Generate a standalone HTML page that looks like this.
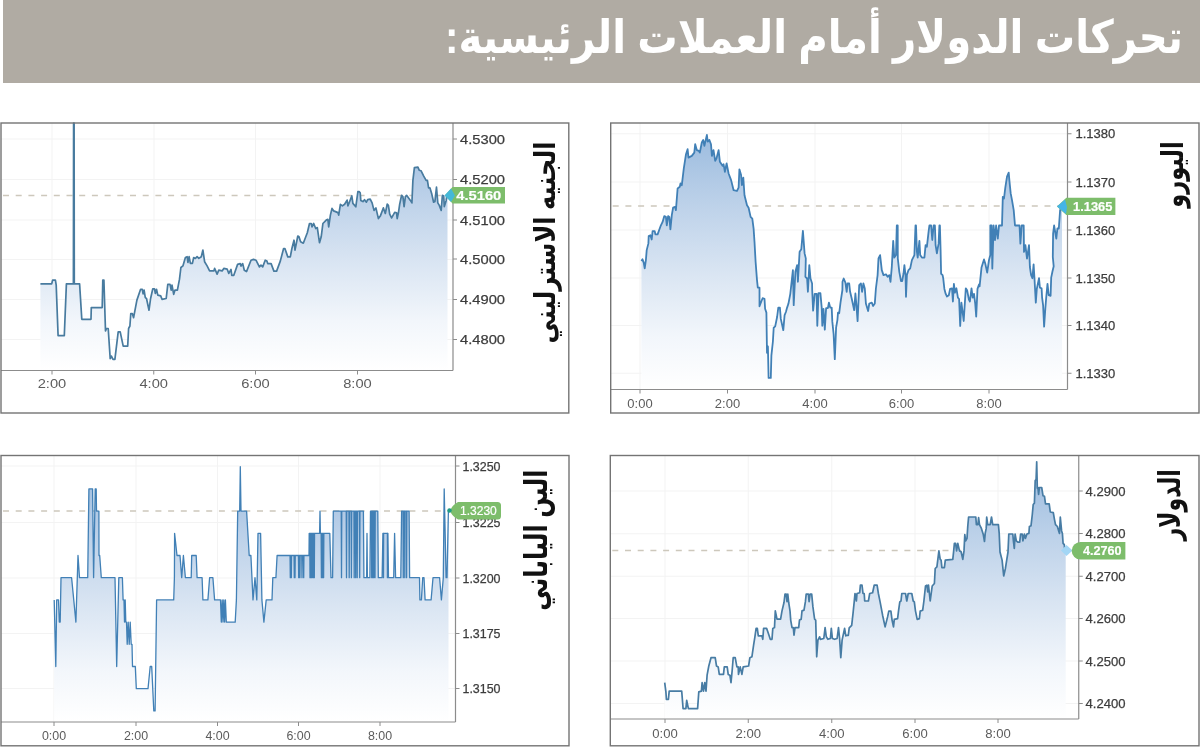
<!DOCTYPE html>
<html lang="ar"><head><meta charset="utf-8"><title>تحركات الدولار أمام العملات الرئيسية</title>
<style>
html,body{margin:0;padding:0;background:#fff}
body{width:1200px;height:748px;position:relative;overflow:hidden;font-family:"Liberation Sans",sans-serif}
#hdr{position:absolute;left:3px;top:0;width:1197px;height:82.5px;background:#b0aba3}
h1,h2{position:absolute;margin:0;font-family:"Liberation Sans",sans-serif;font-weight:normal;color:transparent;white-space:nowrap;overflow:hidden;direction:rtl}
h1{right:17px;top:20px;width:740px;height:40px;font-size:30px;line-height:40px}
h2{font-size:10px;line-height:12px;height:12px;width:100px}
svg{position:absolute;left:0;top:0;filter:blur(0.6px)}
svg text{font-family:"Liberation Sans",sans-serif;fill:#3c3c3c;stroke:#3c3c3c;stroke-width:0.25px}svg text.w{fill:#fff;stroke:#fff;stroke-width:0.2px}svg text.x{fill:#5c5c5c;stroke:none}
svg text.t{fill:#fff;stroke:none;font-family:"Liberation Sans","DejaVu Sans",sans-serif;font-weight:bold}
svg text.l{fill:#111;stroke:none;font-family:"Liberation Sans","DejaVu Sans",sans-serif;font-weight:bold}
</style></head><body>
<div id="hdr"></div>
<h1>تحركات الدولار أمام العملات الرئيسية:</h1>
<h2 style="left:470px;top:230px">الجنيه الاسترليني</h2>
<h2 style="left:1090px;top:170px">اليورو</h2>
<h2 style="left:470px;top:540px">الين الياباني</h2>
<h2 style="left:1090px;top:500px">الدولار</h2>
<svg width="1200" height="748" viewBox="0 0 1200 748">
<defs></defs>
<text class="t" x="814" y="53.3" font-size="46" text-anchor="middle" direction="rtl" textLength="738" lengthAdjust="spacingAndGlyphs">تحركات الدولار أمام العملات الرئيسية:</text>
<g><linearGradient id="gA" gradientUnits="userSpaceOnUse" x1="0" y1="123" x2="0" y2="370.5"><stop offset="0" stop-color="#96b8dd"/><stop offset="0.3" stop-color="#bcd1e9"/><stop offset="0.55" stop-color="#d8e4f2"/><stop offset="0.8" stop-color="#f2f6fb"/><stop offset="1" stop-color="#ffffff"/></linearGradient>
<path d="M52 123V370.5M154 123V370.5M255.5 123V370.5M357.5 123V370.5M1 139H453M1 179.5H453M1 220H453M1 259.5H453M1 299.5H453M1 339.5H453" stroke="#f3f3f3" stroke-width="1" fill="none"/>
<path d="M3 195.5H453" stroke="#cdc8bc" stroke-width="1.3" stroke-dasharray="6 6.7" fill="none"/>
<path d="M40.4 283.9L51.7 283.9L52.6 280.1L55.4 280.1L56.2 285.1L58.1 335.7L64.3 335.7L66.4 283.9L73.4 283.9L73.6 123L74.1 123L74.3 283.9L79.6 283.9L81.8 319.3L91 319.3L91.3 307.6L102.2 307.6L102.8 280.1L103.9 280.1L105.5 331L106.5 328.5L108.2 328.5L110.2 358.6L111.4 356.1L113 359.4L114.9 359.4L118.2 331.9L120.2 331.9L123.2 346.1L127.7 346.1L128.6 328.5L129.9 326L130.8 313.5L132.3 313.5L133.6 317.7L136.9 300.1L140.6 289.3L142.3 289.3L143.1 293.8L144.1 290.1L145.3 297.6L146.5 298.5L149 310.2L150.6 298.5L152.8 288.8L154.5 288.8L155.3 293.4L156.5 289.3L157.8 295.1L160.7 295.9L162 299.3L166.2 298.5L167.8 284.3L170 284.3L171.2 290.1L172 285.1L173.7 294.3L175 290.1L177.4 290.1L179.5 279.2L180.9 267.5L182.9 265.9L185.4 257.5L187.1 256.7L187.9 262.5L189.1 256.7L190.4 263.4L192.4 263.4L193.7 257.5L195.4 258.4L197.1 256.7L198.8 258.4L201.3 256.7L202.9 250L204.6 261.7L207.1 265.9L209.6 270.9L213.8 270.9L214.6 268.4L217.1 274.2L218.8 270.1L222.1 270.9L223.8 268.4L227.2 269.2L228.8 273.4L231 269.4L231.8 275.3L233.8 275.3L237.6 264.4L240.2 263.6L241 266.1L242.7 263.6L244.3 270.3L246.5 271.6L251 260.2L253.5 259.4L256 260.2L259.4 266.9L261 265.2L262.7 266.9L265.2 260.2L266.9 261.1L267.7 263.6L271.1 263.6L273.9 271.1L276.6 271.1L280.3 261.1L283.6 248.5L284.9 248.5L287.8 256.9L290.3 256.9L291.9 248.5L294 240.2L295 250.2L297.8 236L299 236.8L300.6 241.8L303.3 243.2L307.3 232.7L309.5 223.5L311.2 223.5L312 226.8L313.7 223.5L315.7 228.5L317.3 227.6L319.5 242.7L321.2 236.8L322.9 223.5L326.2 220.1L327.9 219.3L328.7 226.8L330.4 215.1L332 208.4L333.7 210.9L337.9 212.6L338.7 215.1L340.4 204.3L342.4 205.9L344.6 204.3L347.1 200.1L347.9 205.9L349.6 201.7L351.8 195.9L352.9 203.4L355.8 206.8L357.9 191.7L359.1 191.6L360.2 192.8L360.8 200.4L362.9 201.6L364.5 199.7L366.4 202.2L367.7 199.7L370.2 199.1L372.1 202.9L374 210.4L375.9 207.9L378.4 218.6L380.3 216.1L383.4 207.9L385.3 213.5L387.2 204.1L388.4 205.4L389.7 214.2L391.6 217.9L394.7 212.3L396.6 212.9L397.2 218.6L398.5 212.3L399.7 204.1L401.6 195.3L402.9 196.6L404.1 206.6L405.4 196.6L406.6 195.3L410.4 200.4L411.9 202.9L412.9 180.3L414.4 167.7L417.9 167.1L419.2 170.2L421.1 170.8L423.6 175.9L426.1 180.3L427.4 180.3L428.6 187.8L429.9 187.8L431.8 194.1L433.6 202.2L434.9 201.6L436.5 187.2L437.8 202.9L439.3 205.4L441.2 210.4L442.4 195.3L443.7 196L444.3 206.6L446.2 200.4L446.8 195.3L447.5 195.3L447.5 370.5L40.4 370.5Z" fill="url(#gA)" stroke="none"/>
<path d="M40.4 283.9L51.7 283.9L52.6 280.1L55.4 280.1L56.2 285.1L58.1 335.7L64.3 335.7L66.4 283.9L73.4 283.9L73.6 123L74.1 123L74.3 283.9L79.6 283.9L81.8 319.3L91 319.3L91.3 307.6L102.2 307.6L102.8 280.1L103.9 280.1L105.5 331L106.5 328.5L108.2 328.5L110.2 358.6L111.4 356.1L113 359.4L114.9 359.4L118.2 331.9L120.2 331.9L123.2 346.1L127.7 346.1L128.6 328.5L129.9 326L130.8 313.5L132.3 313.5L133.6 317.7L136.9 300.1L140.6 289.3L142.3 289.3L143.1 293.8L144.1 290.1L145.3 297.6L146.5 298.5L149 310.2L150.6 298.5L152.8 288.8L154.5 288.8L155.3 293.4L156.5 289.3L157.8 295.1L160.7 295.9L162 299.3L166.2 298.5L167.8 284.3L170 284.3L171.2 290.1L172 285.1L173.7 294.3L175 290.1L177.4 290.1L179.5 279.2L180.9 267.5L182.9 265.9L185.4 257.5L187.1 256.7L187.9 262.5L189.1 256.7L190.4 263.4L192.4 263.4L193.7 257.5L195.4 258.4L197.1 256.7L198.8 258.4L201.3 256.7L202.9 250L204.6 261.7L207.1 265.9L209.6 270.9L213.8 270.9L214.6 268.4L217.1 274.2L218.8 270.1L222.1 270.9L223.8 268.4L227.2 269.2L228.8 273.4L231 269.4L231.8 275.3L233.8 275.3L237.6 264.4L240.2 263.6L241 266.1L242.7 263.6L244.3 270.3L246.5 271.6L251 260.2L253.5 259.4L256 260.2L259.4 266.9L261 265.2L262.7 266.9L265.2 260.2L266.9 261.1L267.7 263.6L271.1 263.6L273.9 271.1L276.6 271.1L280.3 261.1L283.6 248.5L284.9 248.5L287.8 256.9L290.3 256.9L291.9 248.5L294 240.2L295 250.2L297.8 236L299 236.8L300.6 241.8L303.3 243.2L307.3 232.7L309.5 223.5L311.2 223.5L312 226.8L313.7 223.5L315.7 228.5L317.3 227.6L319.5 242.7L321.2 236.8L322.9 223.5L326.2 220.1L327.9 219.3L328.7 226.8L330.4 215.1L332 208.4L333.7 210.9L337.9 212.6L338.7 215.1L340.4 204.3L342.4 205.9L344.6 204.3L347.1 200.1L347.9 205.9L349.6 201.7L351.8 195.9L352.9 203.4L355.8 206.8L357.9 191.7L359.1 191.6L360.2 192.8L360.8 200.4L362.9 201.6L364.5 199.7L366.4 202.2L367.7 199.7L370.2 199.1L372.1 202.9L374 210.4L375.9 207.9L378.4 218.6L380.3 216.1L383.4 207.9L385.3 213.5L387.2 204.1L388.4 205.4L389.7 214.2L391.6 217.9L394.7 212.3L396.6 212.9L397.2 218.6L398.5 212.3L399.7 204.1L401.6 195.3L402.9 196.6L404.1 206.6L405.4 196.6L406.6 195.3L410.4 200.4L411.9 202.9L412.9 180.3L414.4 167.7L417.9 167.1L419.2 170.2L421.1 170.8L423.6 175.9L426.1 180.3L427.4 180.3L428.6 187.8L429.9 187.8L431.8 194.1L433.6 202.2L434.9 201.6L436.5 187.2L437.8 202.9L439.3 205.4L441.2 210.4L442.4 195.3L443.7 196L444.3 206.6L446.2 200.4L446.8 195.3" fill="none" stroke="#487b9f" stroke-width="1.7" stroke-linejoin="round"/>
<path d="M453 123V370.5M1 370.5H453" stroke="#8c8c8c" stroke-width="1.2" fill="none"/>
<path d="M453 139h4M453 179.5h4M453 220h4M453 259h4M453 299.5h4M453 339.5h4M52 370.5v4M153.75 370.5v4M255.5 370.5v4M357.5 370.5v4" stroke="#8c8c8c" stroke-width="1" fill="none"/>
<rect x="1" y="123" width="567.8" height="290" fill="none" stroke="#747474" stroke-width="1.4"/>
<text x="460" y="143.7" font-size="13" textLength="45" lengthAdjust="spacingAndGlyphs">4.5300</text>
<text x="460" y="184.2" font-size="13" textLength="45" lengthAdjust="spacingAndGlyphs">4.5200</text>
<text x="460" y="224.7" font-size="13" textLength="45" lengthAdjust="spacingAndGlyphs">4.5100</text>
<text x="460" y="263.7" font-size="13" textLength="45" lengthAdjust="spacingAndGlyphs">4.5000</text>
<text x="460" y="304.2" font-size="13" textLength="45" lengthAdjust="spacingAndGlyphs">4.4900</text>
<text x="460" y="344.2" font-size="13" textLength="45" lengthAdjust="spacingAndGlyphs">4.4800</text>
<text x="52" y="387.7" font-size="13" class="x" text-anchor="middle" textLength="28.6" lengthAdjust="spacingAndGlyphs">2:00</text>
<text x="153.75" y="387.7" font-size="13" class="x" text-anchor="middle" textLength="28.6" lengthAdjust="spacingAndGlyphs">4:00</text>
<text x="255.5" y="387.7" font-size="13" class="x" text-anchor="middle" textLength="28.6" lengthAdjust="spacingAndGlyphs">6:00</text>
<text x="357.5" y="387.7" font-size="13" class="x" text-anchor="middle" textLength="28.6" lengthAdjust="spacingAndGlyphs">8:00</text></g>
<g><linearGradient id="gB" gradientUnits="userSpaceOnUse" x1="0" y1="123" x2="0" y2="389.5"><stop offset="0" stop-color="#96b8dd"/><stop offset="0.3" stop-color="#bcd1e9"/><stop offset="0.55" stop-color="#d8e4f2"/><stop offset="0.8" stop-color="#f2f6fb"/><stop offset="1" stop-color="#ffffff"/></linearGradient>
<path d="M640 123V389.5M727.5 123V389.5M815 123V389.5M901.5 123V389.5M989 123V389.5M610.7 133.75H1067.5M610.7 182H1067.5M610.7 230H1067.5M610.7 278H1067.5M610.7 325.5H1067.5M610.7 373.25H1067.5" stroke="#f3f3f3" stroke-width="1" fill="none"/>
<path d="M612.7 206H1067.5" stroke="#cdc8bc" stroke-width="1.3" stroke-dasharray="6 6.7" fill="none"/>
<path d="M641.4 260.9L642.5 259.3L643.7 262.6L644.7 268.4L645.9 260.1L646.7 250.1L648.4 243.4L648.7 236.1L650.4 235.3L651.7 239.5L652.6 231.1L654.7 231.1L655.4 234.4L657.6 234.4L660.9 225.3L662.6 221.9L664.3 216.1L665.9 216.9L666.8 225.3L668.1 216.1L669.3 216.9L670.4 229.4L671.8 215.2L673.1 207.7L675.1 206.9L675.9 210.2L677.6 188.5L679.8 186.8L680.5 183.5L681.8 185.2L683.8 168.4L686 154.2L687.6 149.2L688.5 157.6L691.8 155.9L694.3 152.6L695.2 144.2L696.8 150.1L698.8 150.9L699.8 152.6L701.8 142.5L703.2 140L704.4 145.9L705.5 140.9L706.9 135L707.7 141.7L709.4 140L711 144.2L711.9 155.9L713.5 150.1L715.2 160.9L716.5 158.4L718.6 150.1L719.9 161.8L722.7 165.9L723.6 164.3L724.9 171.8L726.6 163.4L728.6 173.5L731.1 180.1L733.6 190.2L736.9 191L738.6 187.7L739.4 169.3L741.1 175.1L741.9 185.2L743.3 177.6L744.5 195.2L747 205.2L748.6 207.7L750.6 216.9L752.3 218.6L753.6 228.6L754.5 241.7L755.6 261.8L757 280.1L757.8 287.7L759.5 287.7L759.5 306.3L761.4 301.3L762.6 298.2L764.5 298.8L765.1 308.8L766.4 312.6L767 352.8L767.9 346.5L768.6 377.9L770.8 377.9L771.4 355.3L772.9 341.5L773.7 327.7L775.2 326.4L777.1 317L778.3 307.6L779.9 307.6L780.8 318.9L783.3 330.2L784.6 315.1L785.9 312L787.1 307.6L788.4 303.8L790.3 293.8L792.9 270.1L793.7 305.2L795.4 271.8L797.1 265.1L797.9 281.8L799.6 251.7L801.3 249.2L802.9 230.8L804.6 253.4L805.8 258.4L805.4 276.8L807.1 278.5L807.9 291.8L809.3 265.1L810.5 278.5L812.1 283.5L812.2 290L813.1 310.7L814.7 293.8L816.6 293.8L817.3 325.8L818.5 293.1L820.4 293.1L821.7 307.6L822.3 325.8L823.5 308.8L824.8 329.6L826.1 308.2L827.9 308.2L828.9 302.6L830.2 307.6L831.7 307.6L832.3 321.4L833.6 334L834.8 359.1L836.1 327.7L837.4 320.2L838 312.6L839.2 313.2L840.5 302.6L842.4 290L842.5 281.8L843.7 278.5L845.4 282.6L846.7 291.8L847.5 283.5L849.2 283.5L850.1 291.8L851.7 298.5L854.2 310.2L855.4 293.5L856.4 305.2L857.6 321.1L859.2 285.2L860.9 283.5L862.1 291.8L863.4 283.5L864.8 288.5L865.9 303.5L868.1 311L869.3 303.5L871.8 302.7L873.1 306L874.8 303.5L875.9 288.5L877.6 275.1L878.5 258.4L880.1 255.1L881.8 270.1L883.5 275.1L886 274.3L887.6 276.8L889.3 275.1L890.5 281.8L891.8 266.8L893.2 240.9L894.3 257.6L896 255.1L896.8 225.5L897.7 225.5L897.8 258.4L899.3 271.8L901 281L902.2 281L903.5 273.5L904.4 265.1L905.5 275.1L906 296.8L906.9 275.1L908.5 270.1L910.2 268.4L911.9 260.1L914.4 255.1L915.5 225.5L916 225.5L916.9 251.7L917.7 257.6L919.4 240.9L920.2 255.1L921.9 257.6L924.4 257.6L925.6 245.1L926.9 246.7L928.6 231.7L929.4 225.5L931.1 225.5L932.3 240L933.6 225.5L934.9 225.5L935.6 245.1L936.9 253.4L938.6 243.4L939.4 225.5L939.9 225.5L940.6 250.1L941.1 273.8L942.6 275.1L943.2 278.2L944.4 288.9L945.7 293.9L947 296.5L948.8 295.2L950.1 288.9L952 288.3L952.9 301.5L953.9 283.9L954.9 292.7L956.4 288.3L957.9 297.7L959.1 299L960.2 326L961.4 302.7L962.4 310.3L963.7 321L965.8 288.3L967.1 290.2L968.9 299.6L969.9 301.5L971.5 288.3L972.7 297.7L974 293.9L975.2 303.4L976.2 316.6L977.5 288.9L979 284.5L979.6 286.4L981.5 267.6L984 259.4L985.3 263.8L987.2 272.6L989 260L990.3 255L990.3 225.5L991.6 225.5L992.3 268.6L993.6 225.5L995 240.2L996.1 225.5L997.8 238.6L999 225.5L1002 225.5L1002.8 196.8L1004 198.5L1005.3 187.6L1007 176.7L1008.7 172.6L1009.5 181.7L1010.7 193.4L1012 200.1L1013.7 210.2L1015 225.5L1019.5 225.5L1020.4 243.6L1021.7 225.5L1023.7 225.5L1024 251.9L1025.4 245.2L1027 258.6L1029 245.2L1029.9 267L1031.1 275.1L1032.4 278.2L1033.6 264.4L1034.5 278.9L1035.8 302.7L1036.8 288.9L1039 278.2L1039.9 287.7L1041.6 288.3L1042.1 297.7L1043.1 305.3L1044.1 326.6L1045.3 309L1046.2 297.7L1047.5 283.9L1048.7 295.2L1050.6 295.8L1051.2 277.6L1052.5 271.3L1053.7 266.3L1052.8 256.9L1053.1 233.5L1054.1 225.5L1056.3 238.6L1057.4 228.5L1058.8 228.5L1060.1 210.2L1061.3 206.8L1062 206.8L1062 389.5L641.4 389.5Z" fill="url(#gB)" stroke="none"/>
<path d="M641.4 260.9L642.5 259.3L643.7 262.6L644.7 268.4L645.9 260.1L646.7 250.1L648.4 243.4L648.7 236.1L650.4 235.3L651.7 239.5L652.6 231.1L654.7 231.1L655.4 234.4L657.6 234.4L660.9 225.3L662.6 221.9L664.3 216.1L665.9 216.9L666.8 225.3L668.1 216.1L669.3 216.9L670.4 229.4L671.8 215.2L673.1 207.7L675.1 206.9L675.9 210.2L677.6 188.5L679.8 186.8L680.5 183.5L681.8 185.2L683.8 168.4L686 154.2L687.6 149.2L688.5 157.6L691.8 155.9L694.3 152.6L695.2 144.2L696.8 150.1L698.8 150.9L699.8 152.6L701.8 142.5L703.2 140L704.4 145.9L705.5 140.9L706.9 135L707.7 141.7L709.4 140L711 144.2L711.9 155.9L713.5 150.1L715.2 160.9L716.5 158.4L718.6 150.1L719.9 161.8L722.7 165.9L723.6 164.3L724.9 171.8L726.6 163.4L728.6 173.5L731.1 180.1L733.6 190.2L736.9 191L738.6 187.7L739.4 169.3L741.1 175.1L741.9 185.2L743.3 177.6L744.5 195.2L747 205.2L748.6 207.7L750.6 216.9L752.3 218.6L753.6 228.6L754.5 241.7L755.6 261.8L757 280.1L757.8 287.7L759.5 287.7L759.5 306.3L761.4 301.3L762.6 298.2L764.5 298.8L765.1 308.8L766.4 312.6L767 352.8L767.9 346.5L768.6 377.9L770.8 377.9L771.4 355.3L772.9 341.5L773.7 327.7L775.2 326.4L777.1 317L778.3 307.6L779.9 307.6L780.8 318.9L783.3 330.2L784.6 315.1L785.9 312L787.1 307.6L788.4 303.8L790.3 293.8L792.9 270.1L793.7 305.2L795.4 271.8L797.1 265.1L797.9 281.8L799.6 251.7L801.3 249.2L802.9 230.8L804.6 253.4L805.8 258.4L805.4 276.8L807.1 278.5L807.9 291.8L809.3 265.1L810.5 278.5L812.1 283.5L812.2 290L813.1 310.7L814.7 293.8L816.6 293.8L817.3 325.8L818.5 293.1L820.4 293.1L821.7 307.6L822.3 325.8L823.5 308.8L824.8 329.6L826.1 308.2L827.9 308.2L828.9 302.6L830.2 307.6L831.7 307.6L832.3 321.4L833.6 334L834.8 359.1L836.1 327.7L837.4 320.2L838 312.6L839.2 313.2L840.5 302.6L842.4 290L842.5 281.8L843.7 278.5L845.4 282.6L846.7 291.8L847.5 283.5L849.2 283.5L850.1 291.8L851.7 298.5L854.2 310.2L855.4 293.5L856.4 305.2L857.6 321.1L859.2 285.2L860.9 283.5L862.1 291.8L863.4 283.5L864.8 288.5L865.9 303.5L868.1 311L869.3 303.5L871.8 302.7L873.1 306L874.8 303.5L875.9 288.5L877.6 275.1L878.5 258.4L880.1 255.1L881.8 270.1L883.5 275.1L886 274.3L887.6 276.8L889.3 275.1L890.5 281.8L891.8 266.8L893.2 240.9L894.3 257.6L896 255.1L896.8 225.5L897.7 225.5L897.8 258.4L899.3 271.8L901 281L902.2 281L903.5 273.5L904.4 265.1L905.5 275.1L906 296.8L906.9 275.1L908.5 270.1L910.2 268.4L911.9 260.1L914.4 255.1L915.5 225.5L916 225.5L916.9 251.7L917.7 257.6L919.4 240.9L920.2 255.1L921.9 257.6L924.4 257.6L925.6 245.1L926.9 246.7L928.6 231.7L929.4 225.5L931.1 225.5L932.3 240L933.6 225.5L934.9 225.5L935.6 245.1L936.9 253.4L938.6 243.4L939.4 225.5L939.9 225.5L940.6 250.1L941.1 273.8L942.6 275.1L943.2 278.2L944.4 288.9L945.7 293.9L947 296.5L948.8 295.2L950.1 288.9L952 288.3L952.9 301.5L953.9 283.9L954.9 292.7L956.4 288.3L957.9 297.7L959.1 299L960.2 326L961.4 302.7L962.4 310.3L963.7 321L965.8 288.3L967.1 290.2L968.9 299.6L969.9 301.5L971.5 288.3L972.7 297.7L974 293.9L975.2 303.4L976.2 316.6L977.5 288.9L979 284.5L979.6 286.4L981.5 267.6L984 259.4L985.3 263.8L987.2 272.6L989 260L990.3 255L990.3 225.5L991.6 225.5L992.3 268.6L993.6 225.5L995 240.2L996.1 225.5L997.8 238.6L999 225.5L1002 225.5L1002.8 196.8L1004 198.5L1005.3 187.6L1007 176.7L1008.7 172.6L1009.5 181.7L1010.7 193.4L1012 200.1L1013.7 210.2L1015 225.5L1019.5 225.5L1020.4 243.6L1021.7 225.5L1023.7 225.5L1024 251.9L1025.4 245.2L1027 258.6L1029 245.2L1029.9 267L1031.1 275.1L1032.4 278.2L1033.6 264.4L1034.5 278.9L1035.8 302.7L1036.8 288.9L1039 278.2L1039.9 287.7L1041.6 288.3L1042.1 297.7L1043.1 305.3L1044.1 326.6L1045.3 309L1046.2 297.7L1047.5 283.9L1048.7 295.2L1050.6 295.8L1051.2 277.6L1052.5 271.3L1053.7 266.3L1052.8 256.9L1053.1 233.5L1054.1 225.5L1056.3 238.6L1057.4 228.5L1058.8 228.5L1060.1 210.2L1061.3 206.8" fill="none" stroke="#4180b6" stroke-width="1.8" stroke-linejoin="round"/>
<path d="M1067.5 123V389.5M610.7 389.5H1067.5" stroke="#8c8c8c" stroke-width="1.2" fill="none"/>
<path d="M1067.5 133.75h4M1067.5 182h4M1067.5 230h4M1067.5 278h4M1067.5 325.5h4M1067.5 373.25h4M640 389.5v4M727.5 389.5v4M815 389.5v4M901.5 389.5v4M989 389.5v4" stroke="#8c8c8c" stroke-width="1" fill="none"/>
<rect x="610.7" y="123" width="588.3" height="290" fill="none" stroke="#747474" stroke-width="1.4"/>
<text x="1075.5" y="138.4" font-size="13" textLength="39.8" lengthAdjust="spacingAndGlyphs">1.1380</text>
<text x="1075.5" y="186.7" font-size="13" textLength="39.8" lengthAdjust="spacingAndGlyphs">1.1370</text>
<text x="1075.5" y="234.7" font-size="13" textLength="39.8" lengthAdjust="spacingAndGlyphs">1.1360</text>
<text x="1075.5" y="282.7" font-size="13" textLength="39.8" lengthAdjust="spacingAndGlyphs">1.1350</text>
<text x="1075.5" y="330.2" font-size="13" textLength="39.8" lengthAdjust="spacingAndGlyphs">1.1340</text>
<text x="1075.5" y="377.9" font-size="13" textLength="39.8" lengthAdjust="spacingAndGlyphs">1.1330</text>
<text x="640" y="407.7" font-size="13" class="x" text-anchor="middle" textLength="25.3" lengthAdjust="spacingAndGlyphs">0:00</text>
<text x="727.5" y="407.7" font-size="13" class="x" text-anchor="middle" textLength="25.3" lengthAdjust="spacingAndGlyphs">2:00</text>
<text x="815" y="407.7" font-size="13" class="x" text-anchor="middle" textLength="25.3" lengthAdjust="spacingAndGlyphs">4:00</text>
<text x="901.5" y="407.7" font-size="13" class="x" text-anchor="middle" textLength="25.3" lengthAdjust="spacingAndGlyphs">6:00</text>
<text x="989" y="407.7" font-size="13" class="x" text-anchor="middle" textLength="25.3" lengthAdjust="spacingAndGlyphs">8:00</text></g>
<g><linearGradient id="gC" gradientUnits="userSpaceOnUse" x1="0" y1="455.5" x2="0" y2="722"><stop offset="0" stop-color="#96b8dd"/><stop offset="0.3" stop-color="#bcd1e9"/><stop offset="0.55" stop-color="#d8e4f2"/><stop offset="0.8" stop-color="#f2f6fb"/><stop offset="1" stop-color="#ffffff"/></linearGradient>
<path d="M54 455.5V722M136 455.5V722M217.5 455.5V722M298.5 455.5V722M380 455.5V722M1 466H455.5M1 522.5H455.5M1 578H455.5M1 633.5H455.5M1 688.5H455.5" stroke="#f3f3f3" stroke-width="1" fill="none"/>
<path d="M3 511H455.5" stroke="#cdc8bc" stroke-width="1.3" stroke-dasharray="6 6.7" fill="none"/>
<path d="M54.2 599.9L55.8 666.5L56.7 599.9L58.5 599.9L59.3 622.1L60.2 622.1L61 577.7L71.6 577.7L75.9 622.1L77.3 577.7L78 555.5L79.5 577.7L87.7 577.7L88.9 488.9L92.6 488.9L93.6 577.7L95.2 488.9L96.2 488.9L96.5 511.1L98.9 511.1L99 555.5L99.7 555.5L101.3 577.7L115 577.7L116.7 666.5L118.8 577.7L122.4 577.7L123.1 599.9L124 599.9L124.5 622.1L125.2 599.9L125.8 622.1L126.5 622.1L127.2 644.3L128.2 622.1L129.2 644.3L130.2 622.1L131.2 644.3L132 644.3L132.5 666.5L135.3 666.5L136.3 688.7L148 688.7L150.2 666.5L151.7 666.5L153.8 710.9L155.1 710.9L156.6 599.9L173.7 599.9L174.4 577.7L174.6 533.3L177 555.5L180 555.5L181.7 577.7L183.4 555.5L185.4 577.7L191.2 577.7L191.7 555.5L196.2 555.5L197.1 577.7L202.1 577.7L202.9 599.9L207.9 599.9L209.6 577.7L212.9 577.7L214.6 599.9L220.5 599.9L221.3 622.1L222.2 599.9L223 622.1L223.8 599.9L224.6 622.1L225.4 599.9L226.3 622.1L235.2 622.1L236.4 599.9L237.7 511.1L239.7 511.1L240.3 466.7L241 511.1L246.6 511.1L249.2 555.5L250.9 555.5L253 599.9L255 577.7L256.8 599.9L258 533.3L260.6 533.3L261.9 599.9L263.9 622.1L266.2 599.9L272 599.9L272.8 577.7L275.9 577.7L277.1 555.5L289.5 555.5L289.8 555.5L290.05 555.5L290.3 577.7L290.55 555.5L291.05 555.5L291.3 577.7L291.55 555.5L294.05 555.5L294.3 577.7L294.55 555.5L294.75 555.5L295 577.7L295.25 555.5L298.45 555.5L298.7 577.7L298.95 555.5L299.65 555.5L299.9 577.7L300.15 555.5L301.75 555.5L302 577.7L302.25 555.5L303.45 555.5L303.7 577.7L303.95 555.5L309 555.5L309.2 533.3L309.75 533.3L310 577.7L310.25 533.3L310.75 533.3L311 577.7L311.25 533.3L311.75 533.3L312 577.7L312.25 533.3L313.05 533.3L313.3 577.7L313.55 533.3L314.05 533.3L314.3 577.7L314.55 533.3L319.6 533.3L320 511.1L320.4 533.3L320.5 533.3L321.15 533.3L321.4 577.7L321.65 533.3L322.25 533.3L322.5 577.7L322.75 533.3L323.35 533.3L323.6 577.7L323.85 533.3L329.8 533.3L331 577.7L332.6 577.7L333.3 511.1L341.25 511.1L341.5 577.7L341.75 511.1L346.25 511.1L346.5 577.7L346.75 511.1L348.95 511.1L349.2 577.7L349.45 511.1L351.15 511.1L351.4 577.7L351.65 511.1L353.95 511.1L354.2 577.7L354.45 511.1L355.45 511.1L355.7 577.7L355.95 511.1L356.95 511.1L357.2 577.7L357.45 511.1L359.45 511.1L359.7 577.7L359.95 511.1L363.4 511.1L363.9 577.7L366.6 577.7L367 533.3L367.4 577.7L369.9 577.7L370.5 511.1L371.45 511.1L371.7 577.7L371.95 511.1L372.45 511.1L372.7 577.7L372.95 511.1L373.45 511.1L373.7 577.7L373.95 511.1L374.75 511.1L375 577.7L375.25 511.1L377.8 511.1L378.3 577.7L382.1 577.7L382.9 533.3L383.4 533.3L383.5 577.7L383.6 533.3L387.4 533.3L387.4 577.7L387.5 533.3L387.9 533.3L388.5 577.7L393.7 577.7L394.6 533.3L395.6 577.7L400.8 577.7L401.6 511.1L403.1 511.1L403.3 577.7L403.4 511.1L404.6 511.1L404.8 577.7L404.9 511.1L406.4 511.1L406.6 577.7L406.8 511.1L409.1 511.1L409.6 577.7L419.5 577.7L419.9 599.9L421.4 599.9L422.7 577.7L424 577.7L425.1 599.9L431.1 599.9L433 577.7L439.6 577.7L441.4 599.9L443.3 577.7L444.2 488.9L446.1 577.7L447 577.7L448.4 511.1L448.5 511.1L448.5 722L54.2 722Z" fill="url(#gC)" stroke="none"/>
<path d="M54.2 599.9L55.8 666.5L56.7 599.9L58.5 599.9L59.3 622.1L60.2 622.1L61 577.7L71.6 577.7L75.9 622.1L77.3 577.7L78 555.5L79.5 577.7L87.7 577.7L88.9 488.9L92.6 488.9L93.6 577.7L95.2 488.9L96.2 488.9L96.5 511.1L98.9 511.1L99 555.5L99.7 555.5L101.3 577.7L115 577.7L116.7 666.5L118.8 577.7L122.4 577.7L123.1 599.9L124 599.9L124.5 622.1L125.2 599.9L125.8 622.1L126.5 622.1L127.2 644.3L128.2 622.1L129.2 644.3L130.2 622.1L131.2 644.3L132 644.3L132.5 666.5L135.3 666.5L136.3 688.7L148 688.7L150.2 666.5L151.7 666.5L153.8 710.9L155.1 710.9L156.6 599.9L173.7 599.9L174.4 577.7L174.6 533.3L177 555.5L180 555.5L181.7 577.7L183.4 555.5L185.4 577.7L191.2 577.7L191.7 555.5L196.2 555.5L197.1 577.7L202.1 577.7L202.9 599.9L207.9 599.9L209.6 577.7L212.9 577.7L214.6 599.9L220.5 599.9L221.3 622.1L222.2 599.9L223 622.1L223.8 599.9L224.6 622.1L225.4 599.9L226.3 622.1L235.2 622.1L236.4 599.9L237.7 511.1L239.7 511.1L240.3 466.7L241 511.1L246.6 511.1L249.2 555.5L250.9 555.5L253 599.9L255 577.7L256.8 599.9L258 533.3L260.6 533.3L261.9 599.9L263.9 622.1L266.2 599.9L272 599.9L272.8 577.7L275.9 577.7L277.1 555.5L289.5 555.5L289.8 555.5L290.05 555.5L290.3 577.7L290.55 555.5L291.05 555.5L291.3 577.7L291.55 555.5L294.05 555.5L294.3 577.7L294.55 555.5L294.75 555.5L295 577.7L295.25 555.5L298.45 555.5L298.7 577.7L298.95 555.5L299.65 555.5L299.9 577.7L300.15 555.5L301.75 555.5L302 577.7L302.25 555.5L303.45 555.5L303.7 577.7L303.95 555.5L309 555.5L309.2 533.3L309.75 533.3L310 577.7L310.25 533.3L310.75 533.3L311 577.7L311.25 533.3L311.75 533.3L312 577.7L312.25 533.3L313.05 533.3L313.3 577.7L313.55 533.3L314.05 533.3L314.3 577.7L314.55 533.3L319.6 533.3L320 511.1L320.4 533.3L320.5 533.3L321.15 533.3L321.4 577.7L321.65 533.3L322.25 533.3L322.5 577.7L322.75 533.3L323.35 533.3L323.6 577.7L323.85 533.3L329.8 533.3L331 577.7L332.6 577.7L333.3 511.1L341.25 511.1L341.5 577.7L341.75 511.1L346.25 511.1L346.5 577.7L346.75 511.1L348.95 511.1L349.2 577.7L349.45 511.1L351.15 511.1L351.4 577.7L351.65 511.1L353.95 511.1L354.2 577.7L354.45 511.1L355.45 511.1L355.7 577.7L355.95 511.1L356.95 511.1L357.2 577.7L357.45 511.1L359.45 511.1L359.7 577.7L359.95 511.1L363.4 511.1L363.9 577.7L366.6 577.7L367 533.3L367.4 577.7L369.9 577.7L370.5 511.1L371.45 511.1L371.7 577.7L371.95 511.1L372.45 511.1L372.7 577.7L372.95 511.1L373.45 511.1L373.7 577.7L373.95 511.1L374.75 511.1L375 577.7L375.25 511.1L377.8 511.1L378.3 577.7L382.1 577.7L382.9 533.3L383.4 533.3L383.5 577.7L383.6 533.3L387.4 533.3L387.4 577.7L387.5 533.3L387.9 533.3L388.5 577.7L393.7 577.7L394.6 533.3L395.6 577.7L400.8 577.7L401.6 511.1L403.1 511.1L403.3 577.7L403.4 511.1L404.6 511.1L404.8 577.7L404.9 511.1L406.4 511.1L406.6 577.7L406.8 511.1L409.1 511.1L409.6 577.7L419.5 577.7L419.9 599.9L421.4 599.9L422.7 577.7L424 577.7L425.1 599.9L431.1 599.9L433 577.7L439.6 577.7L441.4 599.9L443.3 577.7L444.2 488.9L446.1 577.7L447 577.7L448.4 511.1" fill="none" stroke="#4180b6" stroke-width="1.3" stroke-linejoin="round"/>
<path d="M455.5 455.5V722M1 722H455.5" stroke="#8c8c8c" stroke-width="1.2" fill="none"/>
<path d="M455.5 466h4M455.5 522.5h4M455.5 578h4M455.5 633.5h4M455.5 688.5h4M54 722v4M136 722v4M217.5 722v4M298.5 722v4M380 722v4" stroke="#8c8c8c" stroke-width="1" fill="none"/>
<rect x="1" y="455.5" width="568" height="290.29999999999995" fill="none" stroke="#747474" stroke-width="1.4"/>
<text x="462.5" y="470.5" font-size="12.5" textLength="38" lengthAdjust="spacingAndGlyphs">1.3250</text>
<text x="462.5" y="527.0" font-size="12.5" textLength="38" lengthAdjust="spacingAndGlyphs">1.3225</text>
<text x="462.5" y="582.5" font-size="12.5" textLength="38" lengthAdjust="spacingAndGlyphs">1.3200</text>
<text x="462.5" y="638.0" font-size="12.5" textLength="38" lengthAdjust="spacingAndGlyphs">1.3175</text>
<text x="462.5" y="693.0" font-size="12.5" textLength="38" lengthAdjust="spacingAndGlyphs">1.3150</text>
<text x="54" y="739.5" font-size="12.5" class="x" text-anchor="middle" textLength="24.2" lengthAdjust="spacingAndGlyphs">0:00</text>
<text x="136" y="739.5" font-size="12.5" class="x" text-anchor="middle" textLength="24.2" lengthAdjust="spacingAndGlyphs">2:00</text>
<text x="217.5" y="739.5" font-size="12.5" class="x" text-anchor="middle" textLength="24.2" lengthAdjust="spacingAndGlyphs">4:00</text>
<text x="298.5" y="739.5" font-size="12.5" class="x" text-anchor="middle" textLength="24.2" lengthAdjust="spacingAndGlyphs">6:00</text>
<text x="380" y="739.5" font-size="12.5" class="x" text-anchor="middle" textLength="24.2" lengthAdjust="spacingAndGlyphs">8:00</text></g>
<g><linearGradient id="gD" gradientUnits="userSpaceOnUse" x1="0" y1="455.5" x2="0" y2="719"><stop offset="0" stop-color="#96b8dd"/><stop offset="0.3" stop-color="#bcd1e9"/><stop offset="0.55" stop-color="#d8e4f2"/><stop offset="0.8" stop-color="#f2f6fb"/><stop offset="1" stop-color="#ffffff"/></linearGradient>
<path d="M665 455.5V719M748.25 455.5V719M831.75 455.5V719M915 455.5V719M998 455.5V719M610.3 491H1078.75M610.3 533.75H1078.75M610.3 576.25H1078.75M610.3 618.5H1078.75M610.3 661H1078.75M610.3 703.5H1078.75" stroke="#f3f3f3" stroke-width="1" fill="none"/>
<path d="M612.3 550.5H1078.75" stroke="#cdc8bc" stroke-width="1.3" stroke-dasharray="6 6.7" fill="none"/>
<path d="M664.7 682.7L665.9 691.9L666.4 699.4L668.4 699.4L669.2 691.1L681.7 691.1L683.1 708.6L685.9 708.6L686.7 700.3L688.4 708.6L697.6 708.6L698.8 691.9L701.4 691.1L702.1 682.7L703.5 691.1L704.8 682.7L706 691.1L707.1 675.2L708.8 666L711 657.7L715.2 657.7L716.5 666L718.2 666.9L719.3 674.4L723.5 674.4L724.3 666.9L727.2 666.9L728.2 674.4L729.9 675.2L731 682.7L732.2 670.2L733.2 657.7L735.2 657.7L736.9 666.9L738.2 666.9L738.5 674.4L740.2 666.9L741.9 674.4L743.2 666.9L748.6 666L749.9 657.7L751.9 656.8L753.6 645.1L754.9 636.8L756.1 628.4L757.3 628.4L758.3 635.9L761.9 635.9L762.8 639.3L763.6 628.4L766.6 628.4L767.8 631.8L770.3 639.3L772 639.3L772.8 628.4L774.5 627.6L775.3 610.9L777 619.2L780.6 619.2L782 610.9L784 602.5L785 594.2L786.2 594.2L787 601.7L787.8 594.2L788.7 602.5L790 610.9L790.7 620.1L792 627.6L793.3 627.6L794 635.1L795 627.6L798.7 627.6L799.5 620.1L801.2 619.2L802 610.9L804 610.1L805.4 601.7L806.2 594.2L808.4 594.2L809.1 601.7L810.1 594.2L811.7 594.2L812.9 606.7L814.6 619.2L815.7 620.1L816.7 656.8L817.9 640.1L819.6 636.8L820.4 639.3L823.8 638.5L825.1 627.6L826.3 636.8L827.9 639.3L830.4 638.5L831.3 628.4L832.4 638.5L834.6 639.3L837.1 638.5L838.5 627.6L839.6 638.5L840.8 657.7L842.1 640.1L844.6 628.4L845.8 635.9L846.7 635.3L848.3 635.3L849.2 627.8L851.7 625.3L853 613.6L854.2 601.9L855 593.5L856.4 601L857 593.5L859.7 592.7L860.4 585.2L862 585.2L863 593.5L864.2 593.5L864.7 601L868.4 601L869.7 593.5L872.6 592.7L874.2 585.2L877.1 585.2L878.4 593.5L880.1 601.9L882.6 615.2L885.1 626.9L887.6 616.9L888.8 611.1L890.9 611.1L892.1 620.3L893.5 626.9L894.3 619.4L897.6 618.6L898.5 611.1L899.8 601.9L901 601L901.8 593.5L905.5 593.5L906.8 601L908.2 593.5L911.8 593.5L913.2 601L914.3 601.9L915.5 611.1L917.2 619.4L919.4 618.6L920.2 611.1L922.7 610.2L923.9 601L925.5 586L926.9 585.2L927.7 591.8L928.5 585.2L930.2 601L932.2 586L934.4 583.5L935.2 568.5L936.9 566.8L938.9 550.9L940.2 559.3L941.1 560.1L941.9 567.6L944.4 567.6L945.3 560.1L952.8 559.3L953.6 551.7L954.4 543.4L955.6 543.4L956.6 550.9L957.8 543.4L959.5 550.9L961.1 551.7L962.8 559.3L964 550.9L964.8 534.6L965.7 540.9L967 538.4L967.8 525.8L968.6 517L975.8 517L976.4 524.6L977.9 524.6L978.6 517.7L979.5 524.6L981.4 528.4L983.3 534.6L984.5 541.5L985.2 533.4L986.2 528.4L986.7 517L987.7 524.6L990.2 524.6L991.5 517L992.7 524.6L998.4 524.6L999.2 533.4L1000 552L1002.1 560.1L1003.7 576L1005.4 568.5L1006.7 560.1L1008 552L1008.8 534L1012.8 534L1013.4 540.9L1014.3 548.5L1015.1 534L1016.3 540.9L1017.8 542.2L1019.7 542.2L1020.6 534L1022.2 534L1022.9 540.9L1024.4 534L1025.4 538.4L1026.9 534L1028.9 533.4L1029.4 526.5L1031 525.8L1032.3 514.5L1033.2 504.5L1034.4 503.2L1035.2 480.6L1036.1 479.4L1036.7 461.8L1037.3 488.2L1037.9 487.5L1038.6 494.4L1039.4 487.5L1041.7 487.5L1043 495.7L1044.5 496.3L1045.5 503.9L1049.2 503.9L1050.3 512L1053.3 512.6L1054.5 519.6L1055.5 524.6L1057.4 526.5L1058.7 530.9L1059.5 533.4L1060.3 517L1061.6 530.9L1062.4 533.4L1063.1 543.4L1064.3 544.7L1064.9 552L1065.7 552L1065.7 719L664.7 719Z" fill="url(#gD)" stroke="none"/>
<path d="M664.7 682.7L665.9 691.9L666.4 699.4L668.4 699.4L669.2 691.1L681.7 691.1L683.1 708.6L685.9 708.6L686.7 700.3L688.4 708.6L697.6 708.6L698.8 691.9L701.4 691.1L702.1 682.7L703.5 691.1L704.8 682.7L706 691.1L707.1 675.2L708.8 666L711 657.7L715.2 657.7L716.5 666L718.2 666.9L719.3 674.4L723.5 674.4L724.3 666.9L727.2 666.9L728.2 674.4L729.9 675.2L731 682.7L732.2 670.2L733.2 657.7L735.2 657.7L736.9 666.9L738.2 666.9L738.5 674.4L740.2 666.9L741.9 674.4L743.2 666.9L748.6 666L749.9 657.7L751.9 656.8L753.6 645.1L754.9 636.8L756.1 628.4L757.3 628.4L758.3 635.9L761.9 635.9L762.8 639.3L763.6 628.4L766.6 628.4L767.8 631.8L770.3 639.3L772 639.3L772.8 628.4L774.5 627.6L775.3 610.9L777 619.2L780.6 619.2L782 610.9L784 602.5L785 594.2L786.2 594.2L787 601.7L787.8 594.2L788.7 602.5L790 610.9L790.7 620.1L792 627.6L793.3 627.6L794 635.1L795 627.6L798.7 627.6L799.5 620.1L801.2 619.2L802 610.9L804 610.1L805.4 601.7L806.2 594.2L808.4 594.2L809.1 601.7L810.1 594.2L811.7 594.2L812.9 606.7L814.6 619.2L815.7 620.1L816.7 656.8L817.9 640.1L819.6 636.8L820.4 639.3L823.8 638.5L825.1 627.6L826.3 636.8L827.9 639.3L830.4 638.5L831.3 628.4L832.4 638.5L834.6 639.3L837.1 638.5L838.5 627.6L839.6 638.5L840.8 657.7L842.1 640.1L844.6 628.4L845.8 635.9L846.7 635.3L848.3 635.3L849.2 627.8L851.7 625.3L853 613.6L854.2 601.9L855 593.5L856.4 601L857 593.5L859.7 592.7L860.4 585.2L862 585.2L863 593.5L864.2 593.5L864.7 601L868.4 601L869.7 593.5L872.6 592.7L874.2 585.2L877.1 585.2L878.4 593.5L880.1 601.9L882.6 615.2L885.1 626.9L887.6 616.9L888.8 611.1L890.9 611.1L892.1 620.3L893.5 626.9L894.3 619.4L897.6 618.6L898.5 611.1L899.8 601.9L901 601L901.8 593.5L905.5 593.5L906.8 601L908.2 593.5L911.8 593.5L913.2 601L914.3 601.9L915.5 611.1L917.2 619.4L919.4 618.6L920.2 611.1L922.7 610.2L923.9 601L925.5 586L926.9 585.2L927.7 591.8L928.5 585.2L930.2 601L932.2 586L934.4 583.5L935.2 568.5L936.9 566.8L938.9 550.9L940.2 559.3L941.1 560.1L941.9 567.6L944.4 567.6L945.3 560.1L952.8 559.3L953.6 551.7L954.4 543.4L955.6 543.4L956.6 550.9L957.8 543.4L959.5 550.9L961.1 551.7L962.8 559.3L964 550.9L964.8 534.6L965.7 540.9L967 538.4L967.8 525.8L968.6 517L975.8 517L976.4 524.6L977.9 524.6L978.6 517.7L979.5 524.6L981.4 528.4L983.3 534.6L984.5 541.5L985.2 533.4L986.2 528.4L986.7 517L987.7 524.6L990.2 524.6L991.5 517L992.7 524.6L998.4 524.6L999.2 533.4L1000 552L1002.1 560.1L1003.7 576L1005.4 568.5L1006.7 560.1L1008 552L1008.8 534L1012.8 534L1013.4 540.9L1014.3 548.5L1015.1 534L1016.3 540.9L1017.8 542.2L1019.7 542.2L1020.6 534L1022.2 534L1022.9 540.9L1024.4 534L1025.4 538.4L1026.9 534L1028.9 533.4L1029.4 526.5L1031 525.8L1032.3 514.5L1033.2 504.5L1034.4 503.2L1035.2 480.6L1036.1 479.4L1036.7 461.8L1037.3 488.2L1037.9 487.5L1038.6 494.4L1039.4 487.5L1041.7 487.5L1043 495.7L1044.5 496.3L1045.5 503.9L1049.2 503.9L1050.3 512L1053.3 512.6L1054.5 519.6L1055.5 524.6L1057.4 526.5L1058.7 530.9L1059.5 533.4L1060.3 517L1061.6 530.9L1062.4 533.4L1063.1 543.4L1064.3 544.7L1064.9 552" fill="none" stroke="#477ca4" stroke-width="1.7" stroke-linejoin="round"/>
<path d="M1078.75 455.5V719M610.3 719H1078.75" stroke="#8c8c8c" stroke-width="1.2" fill="none"/>
<path d="M1078.75 491h4M1078.75 533.5h4M1078.75 576.25h4M1078.75 618.5h4M1078.75 661h4M1078.75 703.5h4M665 719v4M748.25 719v4M831.75 719v4M915 719v4M998 719v4" stroke="#8c8c8c" stroke-width="1" fill="none"/>
<rect x="610.3" y="455.5" width="588.7" height="290.29999999999995" fill="none" stroke="#747474" stroke-width="1.4"/>
<text x="1085.5" y="495.7" font-size="13" textLength="40" lengthAdjust="spacingAndGlyphs">4.2900</text>
<text x="1085.5" y="538.2" font-size="13" textLength="40" lengthAdjust="spacingAndGlyphs">4.2800</text>
<text x="1085.5" y="580.9" font-size="13" textLength="40" lengthAdjust="spacingAndGlyphs">4.2700</text>
<text x="1085.5" y="623.2" font-size="13" textLength="40" lengthAdjust="spacingAndGlyphs">4.2600</text>
<text x="1085.5" y="665.7" font-size="13" textLength="40" lengthAdjust="spacingAndGlyphs">4.2500</text>
<text x="1085.5" y="708.2" font-size="13" textLength="40" lengthAdjust="spacingAndGlyphs">4.2400</text>
<text x="665" y="737.7" font-size="13" class="x" text-anchor="middle" textLength="25.5" lengthAdjust="spacingAndGlyphs">0:00</text>
<text x="748.25" y="737.7" font-size="13" class="x" text-anchor="middle" textLength="25.5" lengthAdjust="spacingAndGlyphs">2:00</text>
<text x="831.75" y="737.7" font-size="13" class="x" text-anchor="middle" textLength="25.5" lengthAdjust="spacingAndGlyphs">4:00</text>
<text x="915" y="737.7" font-size="13" class="x" text-anchor="middle" textLength="25.5" lengthAdjust="spacingAndGlyphs">6:00</text>
<text x="998" y="737.7" font-size="13" class="x" text-anchor="middle" textLength="25.5" lengthAdjust="spacingAndGlyphs">8:00</text></g>
<path d="M445 195.2L452.5 187H505V203.5H452.5Z" fill="#7dbd6b"/><path d="M444.5 195.5L451 188.5L455 195.5L451 202Z" fill="#45b8d8"/><text x="456.3" y="199.8" font-size="12.5" font-weight="bold" class="w" textLength="45" lengthAdjust="spacingAndGlyphs">4.5160</text><path d="M1057 206.4L1066.3 197.8H1115.4V215H1066.3Z" fill="#7dbd6b"/><path d="M1057 206.4L1065 199.5L1067 207L1066 214Z" fill="#45b5e8"/><text x="1073" y="210.9" font-size="12.5" font-weight="bold" class="w" textLength="39.4" lengthAdjust="spacingAndGlyphs">1.1365</text><path d="M450.3 510.8Q451 506 458 502H497.5Q501 502 501 505.5V516Q501 519.6 497.5 519.6H458Q451 515.5 450.3 510.8Z" fill="#7dbd6b"/><circle cx="449.5" cy="510.5" r="2.2" fill="#1f9c86"/><text x="460" y="515.4" font-size="12.5" class="w" textLength="36.8" lengthAdjust="spacingAndGlyphs">1.3230</text><path d="M1061 550.5L1066.5 545L1072.5 550.5L1066.5 556Z" fill="#a3d6f5"/><path d="M1080.5 541.9H1125.4V559.5H1080.5A8.8 8.8 0 0 1 1080.5 541.9Z" fill="#7dbd6b"/><text x="1083" y="555" font-size="12.5" font-weight="bold" class="w" textLength="38.6" lengthAdjust="spacingAndGlyphs">4.2760</text>
<text class="l" transform="translate(554.9 242.5) rotate(-90)" font-size="29" text-anchor="middle" direction="rtl" textLength="202" lengthAdjust="spacingAndGlyphs">الجنيه الاسترليني</text>
<text class="l" transform="translate(1182.8 174.6) rotate(-90)" font-size="30" text-anchor="middle" direction="rtl" textLength="66.4" lengthAdjust="spacingAndGlyphs">اليورو</text>
<text class="l" transform="translate(546.7 540.2) rotate(-90)" font-size="32" text-anchor="middle" direction="rtl" textLength="141" lengthAdjust="spacingAndGlyphs">الين الياباني</text>
<text class="l" transform="translate(1179.5 504.9) rotate(-90)" font-size="30" text-anchor="middle" direction="rtl" textLength="71.4" lengthAdjust="spacingAndGlyphs">الدولار</text>
</svg>
</body></html>
